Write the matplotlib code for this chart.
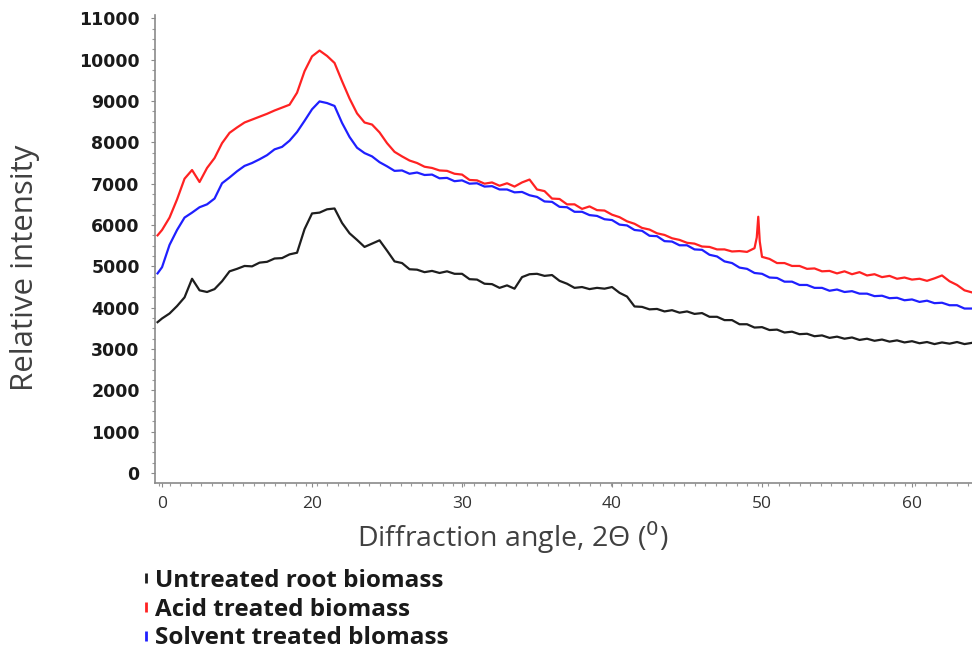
import matplotlib
matplotlib.use("Agg")
import matplotlib.pyplot as plt
from matplotlib.lines import Line2D
from matplotlib.ticker import MultipleLocator

# ---------------- data ----------------
angle = [9.7] + [10.0 + 0.5 * i for i in range(109)]   # sampling grid, 10.0 .. 64.0

untreated = [3650,
    3740, 3860, 4040, 4250, 4700, 4420, 4380, 4450, 4640, 4880,
    4940, 5010, 5000, 5090, 5110, 5190, 5200, 5290, 5330, 5900,
    6280, 6300, 6380, 6400, 6050, 5800, 5640, 5470, 5550, 5630,
    5380, 5120, 5080, 4930, 4920, 4860, 4890, 4840, 4880, 4820,
    4820, 4690, 4680, 4580, 4570, 4480, 4540, 4460, 4740, 4810,
    4820, 4770, 4790, 4650, 4580, 4480, 4500, 4450, 4480, 4460,
    4500, 4360, 4270, 4030, 4020, 3960, 3970, 3910, 3940, 3880,
    3910, 3850, 3870, 3780, 3780, 3700, 3700, 3600, 3600, 3520,
    3530, 3460, 3470, 3400, 3420, 3360, 3370, 3310, 3330, 3270,
    3300, 3250, 3280, 3220, 3250, 3200, 3230, 3180, 3210, 3160,
    3190, 3140, 3170, 3120, 3160, 3130, 3170, 3120, 3150]

acid = [5750,
    5880, 6180, 6620, 7120, 7330, 7040, 7380, 7620, 7980, 8230,
    8360, 8480, 8550, 8620, 8690, 8770, 8840, 8910, 9200, 9720,
    10080, 10220, 10090, 9920, 9480, 9060, 8700, 8480, 8430, 8240,
    7980, 7770, 7660, 7560, 7500, 7410, 7380, 7320, 7310, 7240,
    7220, 7090, 7080, 7000, 7030, 6950, 7010, 6930, 7030, 7100,
    6860, 6820, 6640, 6630, 6500, 6500, 6390, 6450, 6360, 6350,
    6250, 6190, 6090, 6030, 5930, 5890, 5800, 5760, 5680, 5640,
    5570, 5550, 5480, 5470, 5410, 5410, 5360, 5370, 5350, 5440,
    5230, 5180, 5080, 5080, 5010, 5010, 4940, 4950, 4880, 4890,
    4830, 4880, 4810, 4860, 4780, 4810, 4740, 4770, 4700, 4730,
    4680, 4700, 4650, 4710, 4780, 4640, 4550, 4420, 4370]
acid_spike_angle = [49.65, 49.75, 49.85]
acid_spike_value = [5700, 6200, 5600]

solvent = [4830,
    4980, 5520, 5880, 6180, 6300, 6430, 6500, 6640, 7010, 7150,
    7300, 7430, 7500, 7590, 7690, 7830, 7890, 8040, 8250, 8520,
    8800, 8990, 8950, 8880, 8470, 8130, 7870, 7740, 7660, 7520,
    7420, 7310, 7320, 7240, 7270, 7210, 7220, 7130, 7140, 7060,
    7080, 7000, 7010, 6930, 6940, 6860, 6860, 6790, 6800, 6720,
    6680, 6570, 6560, 6440, 6430, 6320, 6320, 6240, 6220, 6140,
    6120, 6010, 5990, 5880, 5860, 5740, 5730, 5610, 5600, 5510,
    5510, 5410, 5400, 5280, 5240, 5120, 5080, 4970, 4940, 4840,
    4820, 4730, 4720, 4630, 4630, 4550, 4550, 4480, 4480, 4410,
    4440, 4380, 4400, 4340, 4340, 4280, 4290, 4230, 4240, 4180,
    4200, 4140, 4170, 4110, 4120, 4060, 4060, 3980, 3980]

x_tick_pos = [10, 20, 30, 40, 50, 60]
x_tick_labels = ["0", "20", "30", "40", "50", "60"]
y_ticks = [0, 1000, 2000, 3000, 4000, 5000, 6000, 7000, 8000, 9000, 10000, 11000]

series_labels = ["Untreated root biomass", "Acid treated biomass", "Solvent treated blomass"]
colors = ["#1e1e1e", "#ff2222", "#1f1fff"]

# ---------------- figure ----------------
fig = plt.figure(figsize=(9.72, 6.49), dpi=100)
ax = fig.add_axes([155/972, 1 - 483/649, 1 - 155/972, (483 - 15)/649])

acid_pairs = sorted(list(zip(angle, acid)) + list(zip(acid_spike_angle, acid_spike_value)))
acid_x = [p[0] for p in acid_pairs]
acid_y = [p[1] for p in acid_pairs]

ax.plot(angle, untreated, color=colors[0], lw=1.6)
ax.plot(angle, solvent, color=colors[2], lw=1.6)
ax.plot(acid_x, acid_y, color=colors[1], lw=1.6)

ax.set_xlim(9.53, 64.0)
ax.set_ylim(-240, 11080)

for s in ["top", "right"]:
    ax.spines[s].set_visible(False)
for s in ["left", "bottom"]:
    ax.spines[s].set_color("#8a8a8a")
    ax.spines[s].set_linewidth(1.2)

ax.set_xticks(x_tick_pos)
ax.set_xticklabels(x_tick_labels, fontfamily="Open Sans", fontsize=12.5, color="#333333")
ax.set_yticks(y_ticks)
ax.set_yticklabels([str(v) for v in y_ticks], fontfamily="DejaVu Sans",
                   fontweight="bold", fontsize=12.5, color="#1a1a1a")
ax.xaxis.set_minor_locator(MultipleLocator(0.7))
ax.yaxis.set_minor_locator(MultipleLocator(250))
ax.tick_params(axis="x", which="major", length=3, color="#8a8a8a", pad=6)
ax.tick_params(axis="y", which="major", length=3, color="#8a8a8a", pad=8)
ax.tick_params(which="minor", length=2, color="#9a9a9a", width=0.8)

fig.text(513/972, 1 - 538/649, "Diffraction angle, 2Θ ($^{0}$)", fontfamily="Open Sans",
         fontsize=20.5, color="#404040", ha="center", va="center")
fig.text(25/972, 1 - 268/649, "Relative intensity", fontfamily="Open Sans",
         fontsize=22.5, color="#404040", ha="center", va="center", rotation=90)

handles = [Line2D([], [], linestyle="none", marker="|", markersize=7, markeredgewidth=2,
                  color=c) for c in colors]
leg = fig.legend(handles, series_labels, loc="upper left",
                 bbox_to_anchor=(131/972, 1 - 559/649), frameon=False,
                 handlelength=0.4, handletextpad=0.2, labelspacing=0.2, borderaxespad=0,
                 prop={"family": "Open Sans", "weight": "bold", "size": 17.5})
for t in leg.get_texts():
    t.set_color("#1a1a1a")

fig.savefig("out.png", dpi=100)
